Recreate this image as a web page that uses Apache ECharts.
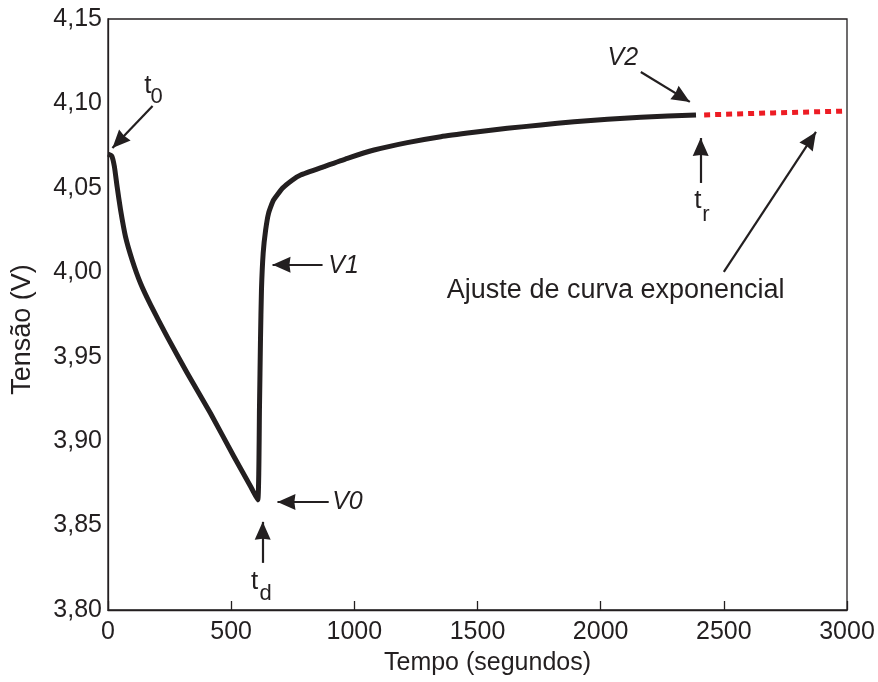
<!DOCTYPE html>
<html>
<head>
<meta charset="utf-8">
<script src="https://cdn.jsdelivr.net/npm/echarts@6/dist/echarts.min.js"></script>
<style>
  html, body { margin: 0; padding: 0; background: #fff; }
  #chart { width: 878px; height: 682px; }
</style>
</head>
<body>
<div id="chart"></div>
<script>
// Tensão medida durante descarga e relaxação (s, V)
const measTime = [0, 15, 26, 37, 51, 71, 98, 132, 173, 240, 322, 416, 511, 579, 608,
  615, 619, 623, 630, 640, 652, 672, 709, 749, 782, 877, 972, 1080, 1215,
  1351, 1486, 1621, 1757, 1892, 2028, 2163, 2387];
const measVolt = [4.070, 4.069, 4.0626, 4.0507, 4.0369, 4.0211, 4.0073, 3.9935, 3.9807, 3.9619,
  3.9402, 3.9165, 3.8909, 3.8731, 3.8652,
  3.9203, 3.9600, 3.9896, 4.0115, 4.0251, 4.0351, 4.0428, 4.0499, 4.0547, 4.0576,
  4.0626, 4.0675, 4.0724, 4.0768, 4.0803, 4.0829, 4.0853, 4.0872, 4.0892,
  4.0906, 4.0918, 4.0932];

// Ajuste exponencial após t_r
const fitTime = [2420, 2700, 3000];
const fitVolt = [4.0932, 4.0944, 4.0955];

// Eixos
const xTicks = [0, 500, 1000, 1500, 2000, 2500, 3000];
const yTicks = [3.80, 3.85, 3.90, 3.95, 4.00, 4.05, 4.10, 4.15];

// Setas de anotação: [t inicial, V inicial] -> [t final, V final]
const arrowStart = [[181, 4.0985], [871, 4.0044], [896, 3.8640], [628, 3.8279], [2163, 4.1186], [2406, 4.0529], [2500, 4.0002]];
const arrowEnd = [[18, 4.0736], [668, 4.0044], [688, 3.8640], [628, 3.8522], [2362, 4.1009], [2406, 4.0795], [2874, 4.0831]];

// Textos de anotação
const noteText = ['t', '0', 'V1', 'V0', 't', 'd', 'V2', 't', 'r', 'Ajuste de curva exponencial'];
const notePos = [[162, 4.1103], [197, 4.1038], [956, 4.0038], [972, 3.8640], [595, 3.8167], [640, 3.8096],
  [2090, 4.1269], [2395, 4.0422], [2427, 4.0340], [2061, 3.9890]];
const noteSize = [26, 22, 25, 25, 26, 22, 25, 26, 22, 27];
const noteItalic = [false, false, true, true, false, false, true, false, false, false];

const INK = '#231f20';
const FONT = 'Liberation Sans, Arial, Helvetica, sans-serif';

const zip = (a, b) => a.map((v, i) => [v, b[i]]);

const chart = echarts.init(document.getElementById('chart'), null, { renderer: 'canvas' });

const arrowLines = arrowStart.map((s, i) => [
  { coord: s },
  { coord: arrowEnd[i] }
]);

const notes = noteText.map((txt, i) => ({
  name: txt,
  coord: notePos[i],
  label: {
    fontSize: noteSize[i],
    fontStyle: noteItalic[i] ? 'italic' : 'normal'
  }
}));

chart.setOption({
  animation: false,
  backgroundColor: '#fff',
  grid: {
    left: 108, right: 31, top: 19, bottom: 72,
    show: true, borderColor: INK, borderWidth: 1.3, backgroundColor: 'transparent'
  },
  xAxis: {
    type: 'value',
    min: xTicks[0], max: xTicks[xTicks.length - 1], interval: 500,
    name: 'Tempo (segundos)',
    nameLocation: 'middle', nameGap: 41,
    nameTextStyle: { color: INK, fontSize: 25, fontFamily: FONT, padding: [0, 0, 0, 20] },
    axisLine: { show: true, lineStyle: { color: INK, width: 1.3 } },
    axisTick: { show: true, inside: true, length: 9, lineStyle: { color: INK, width: 1.3 } },
    axisLabel: { color: INK, fontSize: 25, fontFamily: FONT, margin: 10, formatter: v => String(v) },
    splitLine: { show: false }
  },
  yAxis: {
    type: 'value',
    min: yTicks[0], max: yTicks[yTicks.length - 1], interval: 0.05,
    name: 'Tensão (V)',
    nameLocation: 'middle', nameGap: 72,
    nameTextStyle: { color: INK, fontSize: 27, fontFamily: FONT, padding: [0, 30, 0, 0] },
    axisLine: { show: true, lineStyle: { color: INK, width: 1.3 } },
    axisTick: { show: false },
    axisLabel: {
      color: INK, fontSize: 25, fontFamily: FONT, margin: 6,
      formatter: v => v.toFixed(2).replace('.', ',')
    },
    splitLine: { show: false }
  },
  series: [
    {
      name: 'medida',
      type: 'line',
      data: zip(measTime, measVolt),
      showSymbol: false,
      smooth: 0.15,
      lineStyle: { color: INK, width: 5, cap: 'butt', join: 'round' },
      clip: true,
      z: 3
    },
    {
      name: 'ajuste',
      type: 'line',
      data: zip(fitTime, fitVolt),
      showSymbol: false,
      lineStyle: { color: '#ed1c24', width: 5, type: [6, 5], cap: 'butt' },
      z: 3
    },
    {
      name: 'anotacoes',
      type: 'line',
      data: [],
      silent: true,
      markLine: {
        silent: true,
        symbol: ['none', 'path://M6,0 L12,16 L6,15 L0,16 Z'],
        symbolSize: [16, 18],
        symbolOffset: [0, [0, 9]],
        lineStyle: { color: INK, width: 2.2, type: 'solid' },
        label: { show: false },
        emphasis: { disabled: true },
        data: arrowLines
      },
      markPoint: {
        silent: true,
        symbol: 'circle',
        symbolSize: 1,
        itemStyle: { color: 'transparent' },
        label: {
          show: true, position: 'inside', color: INK, fontFamily: FONT,
          formatter: p => p.name
        },
        data: notes
      }
    }
  ]
});
</script>
</body>
</html>
